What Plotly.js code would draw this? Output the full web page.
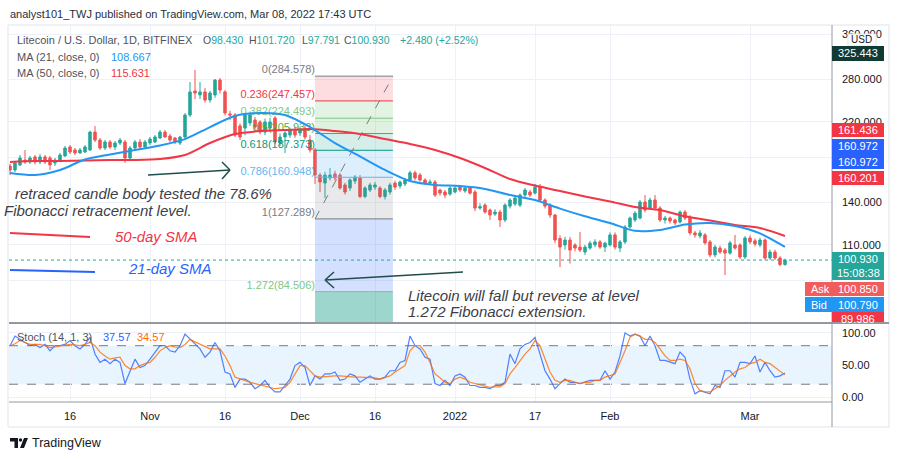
<!DOCTYPE html>
<html><head><meta charset="utf-8">
<script src="https://cdn.plot.ly/plotly-3.0.1.min.js"></script>
<style>html,body{margin:0;padding:0;background:#fff;}#chart{width:900px;height:460px;}</style>
</head><body><div id="chart"></div>
<script>
// ---------------- DATA ----------------
const startDate = [2021, 9, 4]; // first daily candle: 2021-10-04
const opens = [171.5,167.7,172.5,177.4,175.4,180.5,175.4,180.5,179.4,174.4,
177.4,181.5,190.9,187.7,184.6,185.6,187.7,207.6,198.5,189.8,
196.3,190.9,195.2,196.3,179.4,189.8,196.3,190.9,195.2,196.3,
200.8,207.6,203,200.8,195.2,201.9,228.6,261.7,256,260.3,
248.7,255.9,278.4,260.3,230,228.6,215,212.4,218.5,222.2,
219.7,207.6,212.4,224.8,195.2,202,204.2,210,206.5,210,
198.5,187.7,163,155.8,160.3,164,163,154.1,151.5,157.6,
160.3,144.4,149.8,152.3,151.5,144.4,148.1,155.8,153.2,155,
158.5,165,163,158.5,155.8,156.7,149.8,148.1,146.4,148.1,
152.3,149,151.5,148.1,135.3,137.6,133.8,130.8,132.3,126.5,
136.8,138.5,137.6,145.6,148.1,147.2,152.3,141.6,137.6,130.1,
114,109.9,113,109.9,108.6,105.6,108,110,111.8,108.6,
109.9,116.3,108,111.8,121.6,126.5,127.9,140,135.3,141.6,
135.3,126.5,127.9,126.5,125.1,132.3,128.5,117.6,115.6,116.3,
111.8,103.9,108,106.8,105,109.9,109.9,102.7,114.3,112.5,
109.9,113,102.1,105.6,102.1,98.43];
const highs = [173.5,176.4,182.5,187.7,181.5,182.5,183.5,182.5,181.5,179.4,
184.6,192,193,189.8,189.8,193,209.2,214.8,200.8,198.5,
198.5,197.4,200.8,198.5,191.9,198.5,199.6,198.5,202,204.2,
210,210,205.4,202,203,231,275.3,294.6,275.3,266,
262,280,281.6,263,234,231,218,231,233,226,
222,224,225,227,206,209,213,214,214,215,
204,190,165,166,169.6,167,165,156,160,163,
163,153,156,156.7,153,151.5,156,158,158,160,
167,167,165,160,159,158.5,151,150,153,153,
154,153,153,149.8,139,139,135,134.5,134,139,
143,145,147,151.5,150,155,155,143,139,131,
116,115,115,111,118.3,110,112.5,113.5,113,112,
118,118,113,123,129,133,141.5,145.6,143.5,145.6,
136.8,129.5,129,127.5,133.5,133.8,130,119,119.6,117.6,
113,110,109.5,108,112.5,116.3,111,115.5,116,114,
114.5,114,107,107,103.2,101.72];
const lows = [163,165.8,171.5,173.5,173.5,173,173.5,173.5,167.7,171.5,
175.4,180.5,183.5,182.5,183.5,184.6,186.6,196.3,187.7,187.7,
188.8,187.7,193,174.4,177.4,188.8,188.8,189.8,193,195.2,
199.6,200.8,196.3,194,193,200,226,250,250,245,
245,252,258,228,222,202,198.5,204,215,210,
205,204,208,194,192,184.6,201,201,203,199,
185,155,148.1,143.2,158,158,150,146,149,155,
143,143,148,150,143,142,146,150,151,153,
157,158,157,154,154,144,145,143,145,147,
148,147.5,146,133,134,131,126.5,129.5,121.6,125,
135,137,136,144,144,146,140,135,128,111,
97,107,99,106,105.5,103.9,107,108.5,107.5,105.6,
109,107,105.6,110.5,120.5,125,127,132,134,134,
125,124,124,123,124,126.5,116,114.5,114,110,
102.5,102.5,104.5,92.8,104,107,101.5,101.5,110.5,109,
108.5,101,101,101,97.4,97.791];
const closes = [167.7,174.4,179.4,175.4,179.4,175.4,180.5,175.4,172.5,177.4,
182.5,189.8,185.6,184.6,187.7,190.9,207.6,198.5,189.8,196.3,
190.9,195.2,198.5,179.4,189.8,196.3,190.9,196.3,199.6,202,
207.6,202,198.5,196.3,201.9,228.6,260.3,258.8,260.3,248.7,
258.8,278.4,263.2,231.2,228.6,204.2,201.9,228.6,228.6,213.6,
207.6,219.7,219.7,196.3,201.9,206.5,210,204.2,210,201.9,
187.7,163,156.7,163,163,160.3,151.5,148.1,158.5,161.2,
144.4,151.5,154.1,154.1,144.4,149.8,154.1,152.3,156.7,158.5,
165,160.3,158.5,155.8,156.7,145.6,147.2,145.6,151.5,151.5,
149.8,151.5,147.2,135.3,136.4,132.3,130.1,132.3,126.5,137.6,
141.6,143.2,145.6,149.8,145.6,152.3,141.6,136.8,130.1,113,
108.6,113,106.8,108,106.8,108.6,111,111.8,108.6,111,
116.3,108.6,111.8,121.6,127.9,131.5,140,133.8,141.6,135.3,
126.5,127.9,125.8,124.4,132.3,127.9,117.6,116.3,117.6,111.2,
103.9,108.6,105.6,105,111.2,108,102.7,114.3,111.8,110.5,
113,102.1,105.6,102.1,98.45,100.93];

const maDates = ['2021-10-04','2021-10-09','2021-10-14','2021-10-19','2021-10-24','2021-10-29',
'2021-11-03','2021-11-08','2021-11-13','2021-11-18','2021-11-23','2021-11-28',
'2021-12-03','2021-12-08','2021-12-13','2021-12-18','2021-12-23','2021-12-28',
'2022-01-02','2022-01-07','2022-01-12','2022-01-17','2022-01-22','2022-01-27',
'2022-02-01','2022-02-06','2022-02-11','2022-02-16','2022-02-21','2022-02-26',
'2022-03-03','2022-03-08'];
const ma21 = [164.9,163.0,167.7,177.9,183,187.7,192.5,199.6,213.6,227.3,231.2,228.6,
213.6,195.2,181.0,167.7,157.6,154.1,153.2,150.7,145.6,141.6,134.9,129.2,
124.4,119.0,119.6,123.3,124.4,122.3,117.3,108.667];
const ma50 = [175.4,176.4,176.4,176.9,177.4,177.4,178.4,182.5,195.2,205.3,208.8,210.0,
211.2,208.8,205.3,199.6,194.1,187.7,179.4,169.6,159.4,153.6,148.9,144.4,
140.4,136.1,133.8,129.2,126.1,123.0,120.9,115.631];

const stochK = [80,95,90,85,80,82,77,82,72,80,
80,82,88,80,75,82,93,67,54,59,
52,59,54,21,41,59,46,49,59,70,
80,80,72,70,80,98,90,82,75,62,
70,85,72,39,36,15,28,28,23,13,
18,26,15,8,8,18,28,49,54,46,
18,33,28,36,36,39,26,28,36,33,
23,28,33,28,28,31,41,41,54,57,
95,80,75,62,59,21,18,26,18,33,
36,31,18,18,15,15,13,18,18,23,
67,52,75,82,85,93,67,41,28,13,
21,28,23,23,21,23,26,26,26,41,
28,39,64,100,95,98,95,80,95,80,
57,57,54,52,70,62,28,5,10,8,
5,18,15,41,41,31,54,54,52,64,
39,54,41,31,33,37.57];
const stochD = [80,83,88,85,82,82,82,80,77,78,
80,81,82,81,80,82,85,80,70,64,
59,61,62,49,44,44,49,52,54,62,
72,77,80,78,77,82,90,86,82,78,
75,75,75,64,49,31,28,26,23,21,
19,18,15,13,14,15,23,36,49,49,
41,33,31,32,33,33,33,32,31,31,
31,31,31,30,28,31,33,39,44,49,
72,80,80,70,54,36,30,23,21,28,
31,28,23,21,18,16,15,16,16,21,
36,46,57,67,75,88,80,59,39,26,
23,26,26,23,21,23,23,26,26,31,
33,36,54,72,93,98,95,90,90,85,
75,64,57,57,59,57,44,21,10,8,
8,13,18,26,33,39,44,46,52,54,
59,54,52,46,41,34.57];

const fibRatios = [0,0.236,0.382,0.5,0.618,0.786,1,1.272,1.618];
const fibPrices = [284.578,247.457,224.493,205.933,187.373,160.948,127.289,84.506,30.09];
const fibStart = '2021-12-04 00:00';
const fibEnd = '2021-12-19 14:00';
const lastPrice = 100.930;
const priceTicks = [90,110,140,180,220,280,360];
const priceTickText = ['','110.000','140.000','','220.000','280.000','360.000'];
const dateTicks = ['2021-10-16','2021-11-01','2021-11-16','2021-12-01','2021-12-16','2022-01-01','2022-01-17','2022-02-01','2022-03-01'];
const dateTickText = ['16','Nov','16','Dec','16','2022','17','Feb','Mar'];
const stochLevels = [20,80];
const xRange = ['2021-10-03 19:12','2022-03-17 09:36'];
const yRangePrice = [71.2, 379.6];
const yRangeStoch = [-7.7, 113.8];

// ---------------- HELPERS ----------------
const W=900,H=460,ML=9,MR=68,MT=25,MB=58;
const PW=W-ML-MR, PH=H-MT-MB;
const px = x => (x-ML)/PW;
const py = y => 1-(y-MT)/PH;
const FONT = 'Liberation Sans, Arial, sans-serif';
const dates = closes.map((_,i)=>new Date(Date.UTC(startDate[0],startDate[1],startDate[2]+i)).toISOString().slice(0,10));

const zoneColors = ['rgba(242,54,69,0.17)','rgba(129,199,132,0.22)','rgba(76,175,80,0.18)','rgba(8,153,129,0.17)',
  'rgba(100,181,246,0.22)','rgba(120,123,134,0.17)','rgba(41,98,255,0.2)','rgba(8,153,129,0.4)'];
const levelColors = ['#787b86','#f23645','#81c784','#4caf50','#089981','#64b5f6','#787b86','#81c784'];

const traces = [];
for (let i=0;i<8;i++){
  traces.push({type:'scatter',mode:'lines',x:[fibStart,fibEnd,fibEnd,fibStart,fibStart],
    y:[fibPrices[i],fibPrices[i],fibPrices[i+1],fibPrices[i+1],fibPrices[i]],
    fill:'toself',fillcolor:zoneColors[i],line:{width:0},hoverinfo:'skip',xaxis:'x',yaxis:'y'});
}
for (let i=0;i<8;i++){
  traces.push({type:'scatter',mode:'lines',x:[fibStart,fibEnd],y:[fibPrices[i],fibPrices[i]],
    line:{color:levelColors[i],width:1},hoverinfo:'skip',xaxis:'x',yaxis:'y'});
  traces.push({type:'scatter',mode:'text',x:[fibStart],y:[fibPrices[i]],
    text:[fibRatios[i]+'('+fibPrices[i].toFixed(3)+')'],textposition:'top left',
    textfont:{family:FONT,size:11,color:levelColors[i]},hoverinfo:'skip',cliponaxis:false,xaxis:'x',yaxis:'y'});
}
traces.push({type:'scatter',mode:'lines',x:[fibStart,fibEnd],y:[fibPrices[6],fibPrices[0]],
  line:{color:'#787b86',width:1,dash:'dash'},hoverinfo:'skip',xaxis:'x',yaxis:'y'});
traces.push({type:'scatter',mode:'lines',x:xRange,y:[lastPrice,lastPrice],
  line:{color:'#26a69a',width:1,dash:'dot'},hoverinfo:'skip',xaxis:'x',yaxis:'y'});
traces.push({type:'candlestick',x:dates,open:opens,high:highs,low:lows,close:closes,
  increasing:{line:{color:'#26a69a',width:1},fillcolor:'#26a69a'},
  decreasing:{line:{color:'#ef5350',width:1},fillcolor:'#ef5350'},
  whiskerwidth:0,hoverinfo:'skip',xaxis:'x',yaxis:'y'});
traces.push({type:'scatter',mode:'lines',x:maDates,y:ma50,line:{color:'#f23645',width:2,shape:'spline',smoothing:0.8},hoverinfo:'skip',xaxis:'x',yaxis:'y'});
traces.push({type:'scatter',mode:'lines',x:maDates,y:ma21,line:{color:'#2196f3',width:2,shape:'spline',smoothing:0.8},hoverinfo:'skip',xaxis:'x',yaxis:'y'});
traces.push({type:'scatter',mode:'lines',x:dates,y:stochK,line:{color:'#2962ff',width:1.2},opacity:0.8,hoverinfo:'skip',xaxis:'x',yaxis:'y2'});
traces.push({type:'scatter',mode:'lines',x:dates,y:stochD,line:{color:'#ff6d00',width:1.2},opacity:0.8,hoverinfo:'skip',xaxis:'x',yaxis:'y2'});

// ---------------- SHAPES ----------------
const shapes = [];
const rect = (x0,y0,x1,y1,fill,line) => shapes.push({type:'rect',xref:'paper',yref:'paper',x0:px(x0),x1:px(x1),y0:py(y0),y1:py(y1),fillcolor:fill,line:line||{width:0},layer:'above'});
const seg = (x0,y0,x1,y1,color,w,dash) => shapes.push({type:'line',xref:'paper',yref:'paper',x0:px(x0),x1:px(x1),y0:py(y0),y1:py(y1),line:{color:color,width:w||1,dash:dash||'solid'},layer:'above'});
const pathShape = (pts,fill) => shapes.push({type:'path',xref:'paper',yref:'paper',path:'M'+pts.map(p=>px(p[0])+','+py(p[1])).join(' L')+' Z',fillcolor:fill,line:{width:0},layer:'above'});

shapes.push({type:'rect',xref:'paper',x0:0,x1:1,yref:'y2',y0:stochLevels[0],y1:stochLevels[1],fillcolor:'rgba(33,150,243,0.1)',line:{width:0},layer:'below'});
stochLevels.forEach(v=>shapes.push({type:'line',xref:'paper',x0:0,x1:1,yref:'y2',y0:v,y1:v,line:{color:'#787b86',width:1,dash:'dash'},layer:'below'}));

// frame and separators
rect(8,25,889,427,'rgba(0,0,0,0)',{color:'#e0e3eb',width:1});
seg(832,25,832,427,'#9598a1',1);
seg(9,402,832,402,'#9598a1',1);

// SMA legend samples
seg(10,233,90,237,'#f23645',2);
seg(10,270,95,272,'#2962ff',2);
// arrows
const AC='#1f4d49';
seg(148,175,230,170,AC,1.5); seg(222,162,230,170,AC,1.5); seg(230,170,222,179,AC,1.5);
seg(463,272,325,280,AC,1.5); seg(334,272,325,280,AC,1.5); seg(325,280,334,288,AC,1.5);

// price axis boxes
rect(848,34,876,46,'#ffffff',{color:'#e0e3eb',width:1});
rect(832,46,884,61,'#103a33');
rect(832,123,884,137,'#f23645');
rect(832,139,884,169,'#2962ff');
rect(832,171,884,185,'#f23645');
rect(832,252,884,280,'#26a69a');
rect(805,282,884,296,'#f05d5d');
rect(805,297,884,312,'#2196f3');
rect(832,312,884,324,'#f23645');
seg(9,323,889,323,'#9598a1',2);

// TradingView logo
pathShape([[10,438],[18,438],[18,448],[14.5,448],[14.5,441.5],[10,441.5]],'#131722');
shapes.push({type:'circle',xref:'paper',yref:'paper',x0:px(18.8),x1:px(22.2),y0:py(438.3),y1:py(441.7),fillcolor:'#131722',line:{width:0},layer:'above'});
pathShape([[24,438],[28,438],[24,448],[20,448]],'#131722');

// ---------------- ANNOTATIONS ----------------
const anns = [];
const T = (text,x,y,color,size,anchor,extra) => anns.push(Object.assign({xref:'paper',yref:'paper',x:px(x),y:py(y),xanchor:anchor||'left',yanchor:'middle',text:text,showarrow:false,borderpad:0,font:{family:FONT,size:size||11,color:color||'#131722'}},extra||{}));

T('analyst101_TWJ published on TradingView.com, Mar 08, 2022 17:43 UTC',9,14,'#2a2e39',11);
T('Litecoin / U.S. Dollar, 1D, BITFINEX',16,40,'#50535e',11);
const teal='#26a69a';
T('O<span style="color:'+teal+'">98.430</span>',202,40,'#50535e',10.5);
T('H<span style="color:'+teal+'">101.720</span>',248,40,'#50535e',10.5);
T('L<span style="color:'+teal+'">97.791</span>',301,40,'#50535e',10.5);
T('C<span style="color:'+teal+'">100.930</span>',343,40,'#50535e',10.5);
T('+2.480 (+2.52%)',399,40,teal,10.5);
T('MA (21, close, 0)',16,57,'#50535e',11);
T('108.667',110,57,'#2196f3',11);
T('MA (50, close, 0)',16,73,'#50535e',11);
T('115.631',110,73,'#f23645',11);
T('Stoch (14, 1, 3)',16,337,'#50535e',11);
T('37.57',102,337,'#2962ff',11);
T('34.57',136,337,'#ff6d00',11);

const IT = {family:'Liberation Sans, Arial, sans-serif',size:15,color:'#3b3e47'};
const TI = (text,x,y,color) => anns.push({xref:'paper',yref:'paper',x:px(x),y:py(y),xanchor:'left',yanchor:'middle',showarrow:false,borderpad:0,
  text:'<i>'+text+'</i>',font:Object.assign({},IT,color?{color:color}:{})});
TI('retraced candle body tested the 78.6%',14,193);
TI('Fibonacci retracement level.',3,210);
TI('50-day SMA',114,236,'#f23645');
TI('21-day SMA',127,268,'#2962ff');
TI('Litecoin will fall but reverse at level',407,295);
TI('1.272 Fibonacci extension.',407,311);

// price axis labels
T('USD',862,40,'#131722',10,'center');
T('325.443',858,53.5,'#ffffff',11,'center');
T('161.436',858,130,'#ffffff',11,'center');
T('160.972',858,146,'#ffffff',11,'center');
T('160.972',858,162,'#ffffff',11,'center');
T('160.201',858,178,'#ffffff',11,'center');
T('100.930',858,259,'#ffffff',11,'center');
T('15:08:38',858,273,'#ffffff',11,'center');
T('Ask',810,289,'#ffffff',11);
T('100.850',858,289,'#ffffff',11,'center');
T('Bid',810,304.5,'#ffffff',11);
T('100.790',858,304.5,'#ffffff',11,'center');
T('89.986',858,318.5,'#ffffff',11,'center');
T('TradingView',31,443,'#131722',12.5);

const gridc = '#eef1f7';
const layout = {
  width:W,height:H,margin:{l:ML,r:MR,t:MT,b:MB},paper_bgcolor:'#ffffff',plot_bgcolor:'#ffffff',
  showlegend:false,hovermode:false,
  xaxis:{type:'date',range:xRange,tickvals:dateTicks,ticktext:dateTickText,showgrid:true,gridcolor:gridc,
    anchor:'y2',zeroline:false,showline:false,ticks:'',ticklabelstandoff:6,
    tickfont:{family:FONT,size:11,color:'#131722'},rangeslider:{visible:false},fixedrange:true},
  yaxis:{type:'log',domain:[(402-322)/PH,1],range:yRangePrice.map(Math.log10),side:'right',
    tickvals:priceTicks,ticktext:priceTickText,showgrid:true,gridcolor:gridc,zeroline:false,
    showline:false,ticks:'',ticklabelstandoff:9,tickfont:{family:FONT,size:11,color:'#131722'},anchor:'x'},
  yaxis2:{domain:[0,(402-324)/PH],range:yRangeStoch,side:'right',tickvals:[0,50,100],ticktext:['0.00','50.00','100.00'],
    showgrid:true,gridcolor:gridc,zeroline:false,showline:false,ticks:'',ticklabelstandoff:9,
    tickfont:{family:FONT,size:11,color:'#131722'},anchor:'x'},
  shapes:shapes,annotations:anns
};
Plotly.newPlot('chart',traces,layout,{staticPlot:true,displayModeBar:false});
</script>
</body></html>
